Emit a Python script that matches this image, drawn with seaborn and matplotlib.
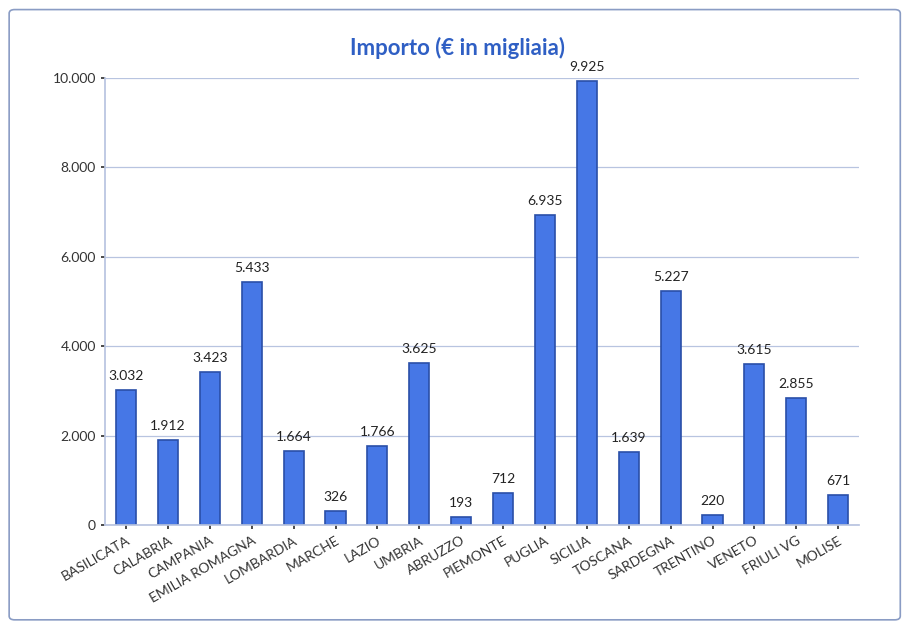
import pandas as pd
import matplotlib.pyplot as plt
import seaborn as sns
from matplotlib.ticker import FuncFormatter
from matplotlib.patches import FancyBboxPatch

regioni = ['BASILICATA', 'CALABRIA', 'CAMPANIA', 'EMILIA ROMAGNA', 'LOMBARDIA',
           'MARCHE', 'LAZIO', 'UMBRIA', 'ABRUZZO', 'PIEMONTE', 'PUGLIA', 'SICILIA',
           'TOSCANA', 'SARDEGNA', 'TRENTINO', 'VENETO', 'FRIULI VG', 'MOLISE']
importi = [3032, 1912, 3423, 5433, 1664, 326, 1766, 3625, 193, 712, 6935, 9925,
           1639, 5227, 220, 3615, 2855, 671]
yticks = [0, 2000, 4000, 6000, 8000, 10000]

df = pd.DataFrame({'Regione': regioni, 'Importo': importi})

sns.set_theme(style="white")
plt.rcParams['font.family'] = ['Lato', 'DejaVu Sans']

fig = plt.figure(figsize=(9.14, 6.39), dpi=100)
ax = fig.add_axes([0.115, 0.178, 0.825, 0.70])

sns.barplot(data=df, x='Regione', y='Importo', color='#4677e6', saturation=1,
            edgecolor='#2a4fa8', linewidth=1.2, width=0.48, ax=ax)

def fmt(v, pos):
    return f"{int(v):,}".replace(',', '.')

ax.set_ylim(0, 10000)
ax.set_yticks(yticks)
ax.yaxis.set_major_formatter(FuncFormatter(fmt))
ax.yaxis.grid(True, color='#b8c4e0', linewidth=0.9)
ax.set_axisbelow(True)
for s in ['top', 'right']:
    ax.spines[s].set_visible(False)
ax.spines['left'].set_color('#b8c4e0')
ax.spines['bottom'].set_color('#b8c4e0')
ax.tick_params(axis='y', labelsize=10, colors='#333333', length=3, left=True)
ax.tick_params(axis='x', labelsize=10, colors='#333333', length=3, bottom=True)
plt.setp(ax.get_xticklabels(), rotation=30, ha='right', rotation_mode='anchor')
ax.set_xlabel('')
ax.set_ylabel('')

for i, v in enumerate(importi):
    ax.text(i, v + 180, fmt(v, None), ha='center', va='bottom', fontsize=10,
            color='#222222', clip_on=False)

fig.text(0.5, 0.925, 'Importo (€ in migliaia)', ha='center', va='center',
         fontsize=16, fontweight='bold', color='#2f5fc4')

border = FancyBboxPatch((0.01, 0.03), 0.975, 0.955, boxstyle='round,pad=0,rounding_size=0.006',
                        transform=fig.transFigure, fill=False, edgecolor='#8a9cc4',
                        linewidth=1.2)
fig.patches.append(border)

plt.savefig('out.png', dpi=100)
plt.close()
